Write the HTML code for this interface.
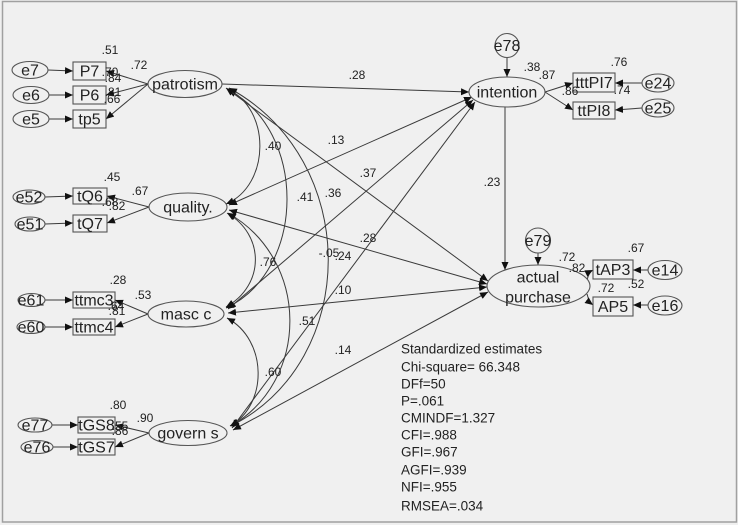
<!DOCTYPE html>
<html><head><meta charset="utf-8"><style>
html,body{margin:0;padding:0;background:#f0f0f0;}
svg{display:block}
text{font-family:"Liberation Sans",Arial,sans-serif;fill:#222}
.n{font-size:16px}
.s{font-size:12px}
.st{font-size:13.5px}
</style></head><body>
<svg width="738" height="525" viewBox="0 0 738 525" xmlns="http://www.w3.org/2000/svg">
<defs>
<marker id="a" markerUnits="userSpaceOnUse" markerWidth="9" markerHeight="8" refX="8" refY="3.5" orient="auto-start-reverse">
<path d="M0,0 L8,3.5 L0,7 z" fill="#111"/>
</marker>
</defs>
<rect x="0" y="0" width="738" height="525" fill="#f0f0f0"/>
<rect x="2.5" y="1.5" width="734" height="520.5" fill="none" stroke="#a0a0a0" stroke-width="1.5"/>

<g fill="none" stroke="#3a3a3a" stroke-width="1">
<!-- covariance arcs -->
<path d="M227,89 C271,108 271,185 226,204" marker-start="url(#a)" marker-end="url(#a)"/>
<path d="M228,90 C307,130 307,270 226,308" marker-start="url(#a)" marker-end="url(#a)"/>
<path d="M229,88 C361,160 361,360 231,426" marker-start="url(#a)" marker-end="url(#a)"/>
<path d="M227,213 C265,235 265,285 226,307" marker-start="url(#a)" marker-end="url(#a)"/>
<path d="M228,213 C310,260 310,380 231,426" marker-start="url(#a)" marker-end="url(#a)"/>
<path d="M227,318 C268,340 268,405 230,426" marker-start="url(#a)" marker-end="url(#a)"/>

<!-- structural lines -->
<line x1="222" y1="84" x2="469" y2="92" marker-end="url(#a)"/>
<line x1="226" y1="88" x2="488" y2="281" marker-start="url(#a)" marker-end="url(#a)"/>
<line x1="472" y1="97" x2="229" y2="205" marker-start="url(#a)" marker-end="url(#a)"/>
<line x1="229" y1="210" x2="487" y2="284" marker-start="url(#a)" marker-end="url(#a)"/>
<line x1="473" y1="100" x2="228" y2="309" marker-start="url(#a)" marker-end="url(#a)"/>
<line x1="228" y1="313" x2="487" y2="287" marker-start="url(#a)" marker-end="url(#a)"/>
<line x1="475" y1="102" x2="232" y2="428" marker-start="url(#a)" marker-end="url(#a)"/>
<line x1="233" y1="430" x2="488" y2="292" marker-start="url(#a)" marker-end="url(#a)"/>
<line x1="505" y1="107" x2="505" y2="270" marker-end="url(#a)"/>

<!-- left measurement arrows -->
<line x1="148" y1="84" x2="106" y2="71" marker-end="url(#a)"/>
<line x1="148" y1="84" x2="106" y2="95" marker-end="url(#a)"/>
<line x1="148" y1="84" x2="106" y2="119" marker-end="url(#a)"/>
<line x1="48" y1="70" x2="73" y2="71" marker-end="url(#a)"/>
<line x1="49" y1="95" x2="73" y2="95" marker-end="url(#a)"/>
<line x1="49" y1="119" x2="73" y2="119" marker-end="url(#a)"/>

<line x1="149" y1="207" x2="107" y2="196" marker-end="url(#a)"/>
<line x1="149" y1="207" x2="107" y2="223" marker-end="url(#a)"/>
<line x1="45" y1="197" x2="73" y2="196" marker-end="url(#a)"/>
<line x1="45" y1="224" x2="73" y2="223" marker-end="url(#a)"/>

<line x1="148" y1="314" x2="115" y2="300" marker-end="url(#a)"/>
<line x1="148" y1="314" x2="115" y2="327" marker-end="url(#a)"/>
<line x1="45" y1="300" x2="73" y2="300" marker-end="url(#a)"/>
<line x1="45" y1="327" x2="73" y2="327" marker-end="url(#a)"/>

<line x1="149" y1="433" x2="115" y2="425" marker-end="url(#a)"/>
<line x1="149" y1="433" x2="115" y2="447" marker-end="url(#a)"/>
<line x1="52" y1="425" x2="78" y2="425" marker-end="url(#a)"/>
<line x1="53" y1="447" x2="78" y2="447" marker-end="url(#a)"/>

<!-- right measurement arrows -->
<line x1="507" y1="57" x2="507" y2="77" marker-end="url(#a)"/>
<line x1="545" y1="92" x2="573" y2="83" marker-end="url(#a)"/>
<line x1="545" y1="92" x2="573" y2="110" marker-end="url(#a)"/>
<line x1="642" y1="83" x2="615" y2="83" marker-end="url(#a)"/>
<line x1="642" y1="108" x2="615" y2="110" marker-end="url(#a)"/>

<line x1="538" y1="253" x2="538" y2="265" marker-end="url(#a)"/>
<path d="M587,280 Q589,272 593,270" marker-end="url(#a)"/>
<path d="M587,294 Q589,302 593,305" marker-end="url(#a)"/>
<line x1="648" y1="270" x2="633" y2="270" marker-end="url(#a)"/>
<line x1="648" y1="305" x2="633" y2="305" marker-end="url(#a)"/>
</g>

<!-- shapes -->
<g fill="#f0f0f0" stroke="#555" stroke-width="1.1">
<ellipse cx="185" cy="84" rx="37" ry="13.5"/>
<ellipse cx="188" cy="207" rx="39" ry="14"/>
<ellipse cx="186" cy="314" rx="38" ry="13"/>
<ellipse cx="188" cy="433" rx="39" ry="12.5"/>
<ellipse cx="507" cy="92" rx="38" ry="15"/>
<ellipse cx="538.5" cy="286" rx="51.5" ry="21"/>

<ellipse cx="30" cy="70" rx="18" ry="8.5"/>
<ellipse cx="31" cy="95" rx="18" ry="8.5"/>
<ellipse cx="31" cy="119" rx="18" ry="8.5"/>
<ellipse cx="29" cy="197" rx="16" ry="7"/>
<ellipse cx="30" cy="224" rx="15" ry="7"/>
<ellipse cx="31.5" cy="300" rx="13.5" ry="6.5"/>
<ellipse cx="31" cy="327" rx="14" ry="6.5"/>
<ellipse cx="35" cy="425" rx="17" ry="7"/>
<ellipse cx="37" cy="447" rx="16" ry="6.5"/>

<circle cx="507" cy="45.5" r="12"/>
<circle cx="538" cy="240.5" r="12.5"/>
<ellipse cx="658" cy="83" rx="16" ry="9"/>
<ellipse cx="658" cy="108" rx="16" ry="9"/>
<ellipse cx="665" cy="270" rx="17" ry="9.5"/>
<ellipse cx="665" cy="305.5" rx="17" ry="9.5"/>

<rect x="73" y="62" width="33" height="18"/>
<rect x="73" y="86" width="33" height="18"/>
<rect x="73" y="110" width="33" height="18"/>
<rect x="73" y="188" width="34" height="16"/>
<rect x="73" y="215" width="34" height="17"/>
<rect x="73" y="292" width="42" height="16"/>
<rect x="73" y="319" width="42" height="16"/>
<rect x="78" y="417" width="37" height="16"/>
<rect x="78" y="439" width="37" height="16"/>

<rect x="573" y="73" width="42" height="19"/>
<rect x="573" y="102" width="42" height="17"/>
<rect x="593" y="260" width="40" height="19"/>
<rect x="593" y="297" width="40" height="19"/>
</g>

<!-- node labels -->
<g class="n" text-anchor="middle">
<text x="185" y="84" dy="0.35em">patrotism</text>
<text x="188" y="207" dy="0.35em">quality.</text>
<text x="186" y="314" dy="0.35em">masc c</text>
<text x="188" y="433" dy="0.35em">govern s</text>
<text x="507" y="92" dy="0.35em">intention</text>
<text x="538" y="277" dy="0.35em">actual</text>
<text x="538" y="297" dy="0.35em">purchase</text>

<text x="30" y="70" dy="0.35em">e7</text>
<text x="31" y="95" dy="0.35em">e6</text>
<text x="31" y="119" dy="0.35em">e5</text>
<text x="29" y="197" dy="0.35em">e52</text>
<text x="30" y="224" dy="0.35em">e51</text>
<text x="31" y="300" dy="0.35em">e61</text>
<text x="31" y="327" dy="0.35em">e60</text>
<text x="35" y="425" dy="0.35em">e77</text>
<text x="37" y="447" dy="0.35em">e76</text>
<text x="507" y="45.5" dy="0.35em">e78</text>
<text x="538" y="240.5" dy="0.35em">e79</text>
<text x="658" y="83" dy="0.35em">e24</text>
<text x="658" y="108" dy="0.35em">e25</text>
<text x="665" y="270" dy="0.35em">e14</text>
<text x="665" y="305.5" dy="0.35em">e16</text>

<text x="89.5" y="71" dy="0.35em">P7</text>
<text x="89.5" y="95" dy="0.35em">P6</text>
<text x="89.5" y="119" dy="0.35em">tp5</text>
<text x="90" y="196" dy="0.35em">tQ6</text>
<text x="90" y="223.5" dy="0.35em">tQ7</text>
<text x="94" y="300" dy="0.35em">ttmc3</text>
<text x="94" y="327" dy="0.35em">ttmc4</text>
<text x="96.5" y="425" dy="0.35em">tGS8</text>
<text x="96.5" y="447" dy="0.35em">tGS7</text>
<text x="594" y="82.5" dy="0.35em">tttPI7</text>
<text x="594" y="110.5" dy="0.35em">ttPI8</text>
<text x="613" y="269.5" dy="0.35em">tAP3</text>
<text x="613" y="306.5" dy="0.35em">AP5</text>
</g>

<!-- coefficient labels -->
<g class="s" text-anchor="middle">
<text x="110" y="50" dy="0.35em">.51</text>
<text x="139" y="65" dy="0.35em">.72</text>
<text x="110" y="72" dy="0.35em">.70</text>
<text x="113" y="78" dy="0.35em">.84</text>
<text x="113" y="92" dy="0.35em">.81</text>
<text x="112" y="99" dy="0.35em">.66</text>

<text x="112" y="177" dy="0.35em">.45</text>
<text x="140" y="191" dy="0.35em">.67</text>
<text x="110" y="202" dy="0.35em">.68</text>
<text x="117" y="206" dy="0.35em">.82</text>

<text x="118" y="280" dy="0.35em">.28</text>
<text x="143" y="295" dy="0.35em">.53</text>
<text x="116" y="306" dy="0.35em">.64</text>
<text x="117" y="311" dy="0.35em">.81</text>

<text x="118" y="405" dy="0.35em">.80</text>
<text x="145" y="418" dy="0.35em">.90</text>
<text x="120" y="426" dy="0.35em">.55</text>
<text x="120" y="431" dy="0.35em">.86</text>

<text x="532" y="67" dy="0.35em">.38</text>
<text x="547" y="75" dy="0.35em">.87</text>
<text x="570" y="91" dy="0.35em">.86</text>
<text x="619" y="62" dy="0.35em">.76</text>
<text x="622" y="90" dy="0.35em">.74</text>

<text x="636" y="248" dy="0.35em">.67</text>
<text x="567" y="257" dy="0.35em">.72</text>
<text x="577" y="268" dy="0.35em">.82</text>
<text x="636" y="284" dy="0.35em">.52</text>
<text x="606" y="288" dy="0.35em">.72</text>

<text x="357" y="75" dy="0.35em">.28</text>
<text x="273" y="146" dy="0.35em">.40</text>
<text x="336" y="140" dy="0.35em">.13</text>
<text x="368" y="173" dy="0.35em">.37</text>
<text x="305" y="197" dy="0.35em">.41</text>
<text x="333" y="193" dy="0.35em">.36</text>
<text x="492" y="182" dy="0.35em">.23</text>
<text x="268" y="262" dy="0.35em">.76</text>
<text x="368" y="238" dy="0.35em">.28</text>
<text x="329" y="253" dy="0.35em">-.05</text>
<text x="343" y="256" dy="0.35em">.24</text>
<text x="343" y="290" dy="0.35em">.10</text>
<text x="307" y="321" dy="0.35em">.51</text>
<text x="343" y="350" dy="0.35em">.14</text>
<text x="273" y="372" dy="0.35em">.60</text>
</g>

<!-- fit statistics -->
<g class="st">
<text x="401" y="349" dy="0.35em">Standardized estimates</text>
<text x="401" y="367" dy="0.35em">Chi-square= 66.348</text>
<text x="401" y="384" dy="0.35em">DFf=50</text>
<text x="401" y="401" dy="0.35em">P=.061</text>
<text x="401" y="418" dy="0.35em">CMINDF=1.327</text>
<text x="401" y="435" dy="0.35em">CFI=.988</text>
<text x="401" y="452" dy="0.35em">GFI=.967</text>
<text x="401" y="470" dy="0.35em">AGFI=.939</text>
<text x="401" y="487" dy="0.35em">NFI=.955</text>
<text x="401" y="506" dy="0.35em">RMSEA=.034</text>
</g>
</svg>
</body></html>
